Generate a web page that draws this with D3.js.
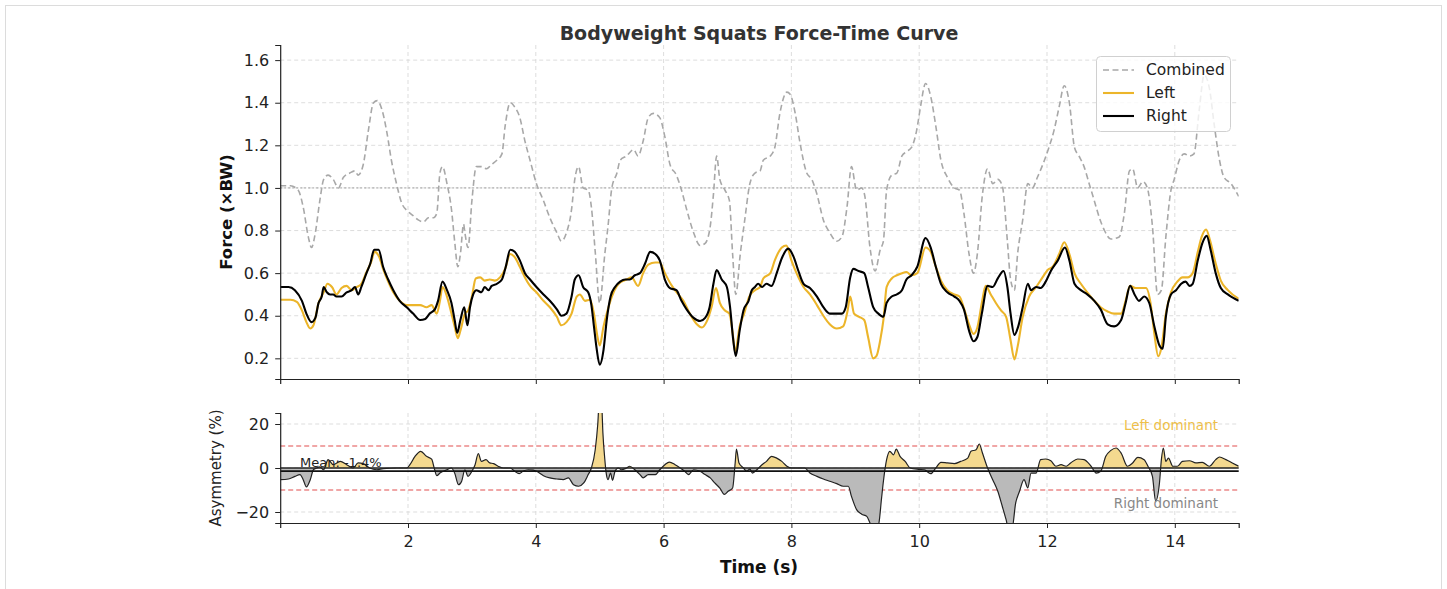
<!DOCTYPE html>
<html>
<head>
<meta charset="utf-8">
<script src="https://cdn.jsdelivr.net/npm/d3@7"></script>
<style>
  html, body { margin: 0; padding: 0; background: #fff; }
  svg { display: block; font-family: "DejaVu Sans", sans-serif; }
</style>
</head>
<body>
<svg id="chart" width="1447" height="589"></svg>
<script>
// Force-time samples, [time (s), force (×BW)]
const combined = [[0,1.01],[0.16,1.01],[0.28,0.99],[0.36,0.91],[0.44,0.77],[0.49,0.72],[0.55,0.79],[0.62,0.94],[0.68,1.04],[0.75,1.06],[0.83,1.04],[0.91,1.0],[0.99,1.05],[1.09,1.07],[1.17,1.08],[1.22,1.06],[1.30,1.11],[1.38,1.27],[1.46,1.40],[1.52,1.41],[1.59,1.37],[1.67,1.26],[1.74,1.13],[1.82,1.02],[1.90,0.93],[2.0,0.89],[2.08,0.87],[2.16,0.85],[2.24,0.84],[2.32,0.86],[2.40,0.86],[2.45,0.88],[2.50,1.07],[2.54,1.10],[2.61,1.02],[2.68,0.90],[2.73,0.75],[2.78,0.63],[2.82,0.69],[2.87,0.83],[2.89,0.79],[2.94,0.72],[3.00,0.94],[3.07,1.10],[3.15,1.10],[3.23,1.09],[3.31,1.11],[3.39,1.13],[3.47,1.16],[3.52,1.29],[3.60,1.40],[3.67,1.38],[3.75,1.33],[3.83,1.22],[3.91,1.13],[4.01,1.02],[4.12,0.94],[4.22,0.86],[4.33,0.79],[4.40,0.75],[4.48,0.79],[4.56,0.90],[4.61,1.04],[4.67,1.10],[4.74,1.00],[4.82,0.99],[4.87,0.91],[4.93,0.70],[5.00,0.46],[5.08,0.69],[5.13,0.82],[5.19,1.00],[5.27,1.07],[5.32,1.13],[5.42,1.15],[5.53,1.18],[5.60,1.15],[5.68,1.22],[5.76,1.33],[5.84,1.35],[5.94,1.33],[6.02,1.24],[6.10,1.11],[6.20,1.06],[6.28,0.99],[6.36,0.90],[6.47,0.79],[6.57,0.73],[6.65,0.74],[6.73,0.82],[6.78,0.97],[6.83,1.15],[6.88,1.04],[6.96,0.99],[7.03,0.94],[7.08,0.69],[7.13,0.50],[7.20,0.69],[7.27,0.85],[7.35,1.02],[7.43,1.07],[7.51,1.08],[7.56,1.13],[7.67,1.15],[7.74,1.19],[7.82,1.35],[7.93,1.45],[7.98,1.44],[8.06,1.35],[8.13,1.22],[8.24,1.07],[8.32,1.04],[8.40,0.97],[8.50,0.85],[8.60,0.79],[8.71,0.75],[8.79,0.77],[8.87,0.91],[8.94,1.10],[9.02,0.99],[9.10,1.00],[9.15,0.96],[9.23,0.72],[9.31,0.61],[9.39,0.71],[9.44,0.75],[9.49,0.99],[9.57,1.06],[9.65,1.07],[9.73,1.15],[9.80,1.17],[9.88,1.19],[9.96,1.27],[10.02,1.38],[10.10,1.49],[10.18,1.43],[10.26,1.29],[10.34,1.13],[10.44,1.05],[10.55,1.00],[10.63,0.99],[10.70,0.88],[10.78,0.69],[10.85,0.60],[10.91,0.69],[10.99,0.97],[11.07,1.09],[11.15,1.02],[11.23,1.04],[11.30,1.01],[11.38,0.75],[11.43,0.57],[11.49,0.52],[11.54,0.69],[11.62,0.85],[11.70,1.02],[11.77,1.00],[11.85,1.05],[11.96,1.13],[12.03,1.19],[12.11,1.27],[12.19,1.38],[12.27,1.48],[12.35,1.40],[12.43,1.19],[12.50,1.15],[12.58,1.10],[12.66,1.02],[12.74,0.94],[12.82,0.86],[12.90,0.80],[13.00,0.76],[13.13,0.77],[13.21,0.88],[13.29,1.08],[13.34,1.09],[13.42,1.00],[13.50,1.03],[13.57,1.00],[13.65,0.82],[13.73,0.50],[13.79,0.52],[13.86,0.77],[13.94,0.99],[13.99,1.04],[14.07,1.13],[14.15,1.16],[14.23,1.15],[14.30,1.16],[14.38,1.36],[14.46,1.53],[14.54,1.47],[14.62,1.29],[14.70,1.13],[14.77,1.05],[14.88,1.02],[15.0,0.96]];

const left = [[0,0.475],[0.16,0.475],[0.26,0.465],[0.34,0.425],[0.41,0.37],[0.47,0.34],[0.52,0.355],[0.60,0.46],[0.68,0.51],[0.74,0.55],[0.81,0.535],[0.88,0.50],[0.96,0.53],[1.04,0.54],[1.12,0.52],[1.20,0.535],[1.27,0.55],[1.35,0.605],[1.42,0.65],[1.48,0.70],[1.55,0.675],[1.61,0.62],[1.69,0.56],[1.77,0.51],[1.87,0.47],[1.98,0.45],[2.08,0.45],[2.19,0.45],[2.29,0.44],[2.37,0.45],[2.45,0.41],[2.50,0.47],[2.54,0.535],[2.61,0.49],[2.68,0.41],[2.73,0.35],[2.78,0.295],[2.82,0.33],[2.89,0.41],[2.94,0.425],[3.00,0.49],[3.06,0.575],[3.13,0.58],[3.20,0.565],[3.28,0.57],[3.36,0.565],[3.44,0.58],[3.52,0.62],[3.60,0.69],[3.67,0.675],[3.75,0.63],[3.83,0.58],[3.91,0.54],[4.01,0.51],[4.12,0.47],[4.22,0.44],[4.33,0.395],[4.40,0.355],[4.48,0.37],[4.56,0.41],[4.64,0.49],[4.69,0.50],[4.77,0.47],[4.85,0.475],[4.91,0.41],[4.96,0.31],[5.00,0.26],[5.06,0.35],[5.11,0.41],[5.19,0.49],[5.27,0.54],[5.34,0.56],[5.42,0.57],[5.50,0.58],[5.60,0.54],[5.68,0.60],[5.76,0.64],[5.87,0.65],[5.94,0.65],[6.02,0.60],[6.13,0.54],[6.23,0.50],[6.31,0.47],[6.41,0.41],[6.52,0.36],[6.60,0.345],[6.67,0.37],[6.75,0.44],[6.82,0.53],[6.88,0.46],[6.96,0.425],[7.03,0.41],[7.08,0.32],[7.12,0.23],[7.19,0.35],[7.26,0.41],[7.34,0.49],[7.43,0.52],[7.51,0.535],[7.56,0.575],[7.67,0.60],[7.74,0.66],[7.85,0.72],[7.92,0.73],[8.00,0.66],[8.08,0.60],[8.19,0.535],[8.29,0.50],[8.40,0.45],[8.50,0.40],[8.60,0.36],[8.71,0.34],[8.81,0.35],[8.88,0.425],[8.92,0.49],[8.98,0.41],[9.06,0.395],[9.14,0.38],[9.20,0.30],[9.28,0.20],[9.33,0.21],[9.39,0.285],[9.44,0.38],[9.49,0.535],[9.57,0.575],[9.65,0.59],[9.73,0.60],[9.80,0.605],[9.88,0.59],[9.97,0.60],[10.10,0.72],[10.18,0.70],[10.26,0.63],[10.34,0.565],[10.44,0.52],[10.55,0.50],[10.63,0.49],[10.70,0.435],[10.78,0.36],[10.85,0.315],[10.91,0.345],[10.98,0.46],[11.04,0.54],[11.12,0.50],[11.20,0.46],[11.28,0.425],[11.36,0.395],[11.43,0.285],[11.49,0.195],[11.54,0.255],[11.62,0.395],[11.72,0.49],[11.83,0.535],[11.93,0.58],[12.01,0.615],[12.09,0.63],[12.19,0.69],[12.27,0.745],[12.35,0.69],[12.43,0.60],[12.53,0.55],[12.63,0.51],[12.74,0.47],[12.84,0.44],[12.95,0.42],[13.05,0.41],[13.16,0.41],[13.23,0.47],[13.30,0.54],[13.39,0.53],[13.47,0.53],[13.55,0.53],[13.62,0.46],[13.68,0.315],[13.74,0.21],[13.79,0.25],[13.86,0.41],[13.94,0.51],[14.04,0.56],[14.12,0.58],[14.20,0.58],[14.28,0.60],[14.36,0.70],[14.42,0.77],[14.49,0.805],[14.55,0.755],[14.64,0.645],[14.72,0.565],[14.83,0.52],[15.0,0.48]];

const right = [[0,0.535],[0.13,0.535],[0.23,0.52],[0.34,0.47],[0.41,0.41],[0.49,0.37],[0.55,0.39],[0.60,0.46],[0.65,0.49],[0.68,0.535],[0.73,0.51],[0.78,0.50],[0.83,0.50],[0.88,0.49],[0.96,0.49],[1.04,0.51],[1.12,0.52],[1.17,0.535],[1.22,0.50],[1.27,0.535],[1.35,0.60],[1.41,0.645],[1.47,0.71],[1.54,0.71],[1.61,0.63],[1.69,0.57],[1.77,0.52],[1.87,0.47],[1.98,0.44],[2.08,0.41],[2.19,0.38],[2.27,0.385],[2.34,0.41],[2.42,0.43],[2.47,0.47],[2.54,0.56],[2.61,0.52],[2.68,0.46],[2.73,0.38],[2.77,0.32],[2.82,0.38],[2.88,0.44],[2.93,0.355],[2.97,0.44],[3.02,0.50],[3.07,0.52],[3.15,0.51],[3.20,0.535],[3.26,0.52],[3.31,0.54],[3.39,0.55],[3.47,0.57],[3.53,0.63],[3.60,0.71],[3.67,0.70],[3.75,0.66],[3.83,0.60],[3.91,0.57],[4.01,0.535],[4.12,0.50],[4.22,0.47],[4.33,0.43],[4.40,0.40],[4.48,0.41],[4.56,0.49],[4.61,0.57],[4.67,0.59],[4.74,0.535],[4.82,0.51],[4.87,0.45],[4.91,0.35],[4.95,0.25],[5.00,0.17],[5.06,0.24],[5.11,0.38],[5.17,0.49],[5.24,0.535],[5.32,0.56],[5.40,0.57],[5.47,0.57],[5.55,0.59],[5.63,0.60],[5.71,0.645],[5.79,0.70],[5.87,0.69],[5.94,0.66],[6.02,0.57],[6.10,0.53],[6.20,0.52],[6.28,0.47],[6.36,0.43],[6.47,0.39],[6.57,0.375],[6.65,0.39],[6.72,0.44],[6.78,0.55],[6.83,0.615],[6.91,0.57],[6.99,0.535],[7.04,0.44],[7.09,0.285],[7.13,0.21],[7.19,0.33],[7.25,0.425],[7.33,0.47],[7.38,0.52],[7.43,0.535],[7.48,0.55],[7.54,0.535],[7.61,0.55],[7.69,0.54],[7.77,0.60],[7.85,0.67],[7.95,0.715],[8.03,0.68],[8.11,0.61],[8.19,0.55],[8.29,0.53],[8.40,0.49],[8.50,0.44],[8.60,0.41],[8.71,0.41],[8.79,0.41],[8.85,0.44],[8.92,0.58],[8.97,0.62],[9.05,0.61],[9.14,0.60],[9.20,0.535],[9.28,0.44],[9.36,0.41],[9.44,0.395],[9.49,0.46],[9.57,0.49],[9.65,0.50],[9.73,0.52],[9.80,0.57],[9.88,0.59],[9.97,0.63],[10.10,0.765],[10.18,0.72],[10.26,0.63],[10.34,0.55],[10.44,0.51],[10.55,0.49],[10.63,0.47],[10.70,0.43],[10.78,0.33],[10.85,0.28],[10.91,0.30],[10.98,0.41],[11.07,0.54],[11.15,0.535],[11.23,0.575],[11.32,0.61],[11.38,0.535],[11.43,0.41],[11.49,0.31],[11.55,0.35],[11.62,0.44],[11.70,0.55],[11.75,0.52],[11.83,0.535],[11.90,0.53],[11.98,0.56],[12.06,0.61],[12.17,0.66],[12.28,0.72],[12.35,0.66],[12.43,0.55],[12.53,0.52],[12.63,0.50],[12.74,0.47],[12.84,0.43],[12.95,0.36],[13.05,0.35],[13.16,0.38],[13.23,0.46],[13.30,0.54],[13.37,0.50],[13.44,0.47],[13.52,0.49],[13.60,0.46],[13.68,0.35],[13.76,0.26],[13.81,0.245],[13.86,0.395],[13.94,0.50],[14.02,0.52],[14.10,0.55],[14.17,0.56],[14.23,0.54],[14.28,0.55],[14.36,0.66],[14.43,0.74],[14.50,0.775],[14.56,0.71],[14.64,0.60],[14.72,0.53],[14.83,0.50],[15.0,0.47]];

// Left/right asymmetry, [time (s), %]; positive = left dominant
const asymmetry = [[0,-5.3],[0.13,-5],[0.23,-3.8],[0.31,-3],[0.36,-5.3],[0.41,-8.6],[0.47,-5.3],[0.52,-0.8],[0.57,0],[0.62,0.5],[0.68,-0.8],[0.75,3.8],[0.83,1.5],[0.94,3],[1.04,1.5],[1.14,0],[1.22,2.3],[1.30,2],[1.40,0],[1.51,-0.8],[1.61,-0.3],[1.82,0],[1.98,0],[2.03,1.5],[2.11,5.3],[2.20,7.6],[2.29,5.3],[2.37,4],[2.41,0],[2.45,-3.5],[2.50,-2.3],[2.61,-0.8],[2.68,0],[2.73,-2.3],[2.79,-7.6],[2.84,-6],[2.89,-0.8],[2.94,-3.8],[3.00,-1.5],[3.05,1.5],[3.10,6.5],[3.15,3],[3.22,3.8],[3.28,2.3],[3.34,2],[3.41,0.8],[3.49,0],[3.60,0],[3.67,-1.5],[3.74,-2.6],[3.80,-1.5],[3.88,-0.8],[3.96,-1],[4.01,-1.5],[4.12,-3.5],[4.22,-4.5],[4.33,-5],[4.43,-5.3],[4.51,-4.5],[4.59,-7.6],[4.67,-8.3],[4.75,-6.8],[4.82,-3],[4.87,0],[4.93,8.3],[4.97,20],[5.00,34],[5.03,30],[5.05,16],[5.08,4],[5.10,-2],[5.13,-5.3],[5.17,-2.3],[5.20,-5.6],[5.24,-1.5],[5.29,0],[5.34,-0.8],[5.42,0],[5.47,0.8],[5.55,-0.8],[5.63,-3],[5.68,-4.5],[5.76,-3],[5.87,-3],[5.94,-0.8],[6.02,1.5],[6.09,2.7],[6.18,1.5],[6.26,0],[6.33,-1.5],[6.39,-3],[6.47,-0.8],[6.57,-1.5],[6.65,-3],[6.73,-4.5],[6.80,-6.8],[6.88,-9.1],[6.95,-12],[7.01,-10.6],[7.08,-9.1],[7.12,2.3],[7.14,8.6],[7.18,2.3],[7.25,0],[7.30,-1.5],[7.35,-0.5],[7.39,-2.3],[7.46,-0.8],[7.54,1.5],[7.61,3],[7.69,5.3],[7.77,4.5],[7.85,3],[7.93,0.8],[8.00,0],[8.21,0],[8.29,-2.3],[8.40,-3.8],[8.50,-5],[8.60,-6],[8.71,-7.1],[8.81,-8.3],[8.89,-8.3],[8.94,-12.9],[9.02,-18.9],[9.10,-21],[9.18,-22],[9.23,-25],[9.28,-28],[9.33,-28],[9.37,-25],[9.41,-14],[9.44,-6],[9.49,3.8],[9.54,7.6],[9.60,6],[9.64,8.6],[9.70,5.3],[9.78,3],[9.86,0],[9.99,-0.6],[10.08,-0.8],[10.18,-2.6],[10.26,0],[10.34,2.6],[10.44,2.3],[10.55,2],[10.65,3],[10.76,4.5],[10.81,7.6],[10.89,8.3],[10.94,10.9],[10.99,6.8],[11.07,0],[11.15,-5.3],[11.23,-10.6],[11.30,-17.4],[11.36,-23.5],[11.40,-28],[11.45,-28],[11.51,-15.9],[11.57,-10.6],[11.64,-5.3],[11.70,-9],[11.75,-2.3],[11.83,-2.3],[11.90,3.8],[11.98,4.1],[12.06,3.3],[12.14,0.8],[12.22,1.5],[12.30,0.8],[12.37,2.3],[12.48,4.1],[12.58,3.8],[12.69,0.8],[12.77,-2.3],[12.84,-1.5],[12.92,5.3],[13.00,8],[13.08,9.1],[13.16,6.8],[13.26,0.8],[13.34,2.3],[13.42,4.8],[13.52,3.8],[13.58,0.8],[13.65,-3.8],[13.70,-15],[13.76,-6.8],[13.79,3.8],[13.82,9],[13.86,3],[13.90,4.5],[13.97,0.8],[14.04,0.8],[14.12,3],[14.23,3.3],[14.33,2.3],[14.43,2.6],[14.54,0.8],[14.64,3.8],[14.70,5],[14.80,3.8],[14.90,2.3],[15.0,0.8]];

const meanAsymmetry = -1.4;
const timeTicks = [2, 4, 6, 8, 10, 12, 14];
const forceTicks = [0.2, 0.4, 0.6, 0.8, 1.0, 1.2, 1.4, 1.6];
const asymTicks = [-20, 0, 20];
const thresholdLines = [10, -10];

const COL_LEFT = "#ecb52a";
const COL_RIGHT = "#000000";
const COL_COMB = "#a8a8a8";

const svg = d3.select("#chart");
const W = 1447, H = 589;

// outer frame
svg.append("rect").attr("x", 5.5).attr("y", 5.5).attr("width", W - 11).attr("height", H + 10)
  .attr("fill", "#fff").attr("stroke", "#dcdcdc").attr("stroke-width", 1);

const x = d3.scaleLinear().domain([0, 15]).range([280.2, 1238.7]);
const yTop = d3.scaleLinear().domain([0.103, 1.671]).range([379, 45]);
const yBot = d3.scaleLinear().domain([-25, 25]).range([523, 413]);

const defs = svg.append("defs");
defs.append("clipPath").attr("id", "clipTop").append("rect")
  .attr("x", x(0)).attr("y", yTop(1.671)).attr("width", x(15) - x(0)).attr("height", yTop(0.103) - yTop(1.671));
defs.append("clipPath").attr("id", "clipBot").append("rect")
  .attr("x", x(0)).attr("y", yBot(25)).attr("width", x(15) - x(0)).attr("height", yBot(-25) - yBot(25));
defs.append("clipPath").attr("id", "clipPos").append("rect")
  .attr("x", x(0)).attr("y", yBot(25)).attr("width", x(15) - x(0)).attr("height", yBot(0) - yBot(25));
defs.append("clipPath").attr("id", "clipNeg").append("rect")
  .attr("x", x(0)).attr("y", yBot(0)).attr("width", x(15) - x(0)).attr("height", yBot(-25) - yBot(0));

function grid(g, yScale, yTicks, y0, y1) {
  g.selectAll("line.gx").data(timeTicks).join("line").attr("class", "gx")
    .attr("x1", d => x(d)).attr("x2", d => x(d)).attr("y1", y0).attr("y2", y1)
    .attr("stroke", "#d9d9d9").attr("stroke-width", 0.9).attr("stroke-dasharray", "4,3");
  g.selectAll("line.gy").data(yTicks).join("line").attr("class", "gy")
    .attr("x1", x(0)).attr("x2", x(15)).attr("y1", d => yScale(d)).attr("y2", d => yScale(d))
    .attr("stroke", "#d9d9d9").attr("stroke-width", 0.9).attr("stroke-dasharray", "4,3");
}

function styleAxis(g) {
  g.select(".domain").attr("stroke", "#222").attr("stroke-width", 1.2);
  g.selectAll(".tick line").attr("stroke", "#222").attr("stroke-width", 1);
  g.selectAll(".tick text").attr("fill", "#222").style("font-size", "16px")
    .style("font-family", "DejaVu Sans, sans-serif");
}

// ---------- Force panel ----------
const forcePanel = svg.append("g");
grid(forcePanel.append("g"), yTop, forceTicks, yTop(1.671), yTop(0.103));

// bodyweight reference
forcePanel.append("line").attr("x1", x(0)).attr("x2", x(15)).attr("y1", yTop(1)).attr("y2", yTop(1))
  .attr("stroke", "#a0a0a0").attr("stroke-width", 1).attr("stroke-dasharray", "2,2");

const line = yS => d3.line().x(d => x(d[0])).y(d => yS(d[1])).curve(d3.curveMonotoneX);
const plotTop = forcePanel.append("g").attr("clip-path", "url(#clipTop)");
plotTop.append("path").datum(combined).attr("d", line(yTop))
  .attr("fill", "none").attr("stroke", COL_COMB).attr("stroke-width", 1.6).attr("stroke-dasharray", "6,3.5");
plotTop.append("path").datum(left).attr("d", line(yTop))
  .attr("fill", "none").attr("stroke", COL_LEFT).attr("stroke-width", 2.1).attr("stroke-linejoin", "round");
plotTop.append("path").datum(right).attr("d", line(yTop))
  .attr("fill", "none").attr("stroke", COL_RIGHT).attr("stroke-width", 2.1).attr("stroke-linejoin", "round");

forcePanel.append("g").attr("transform", `translate(${x(0)},0)`)
  .call(d3.axisLeft(yTop).tickValues(forceTicks).tickFormat(d3.format(".1f")).tickSizeOuter(0).tickSize(5).tickPadding(6))
  .call(styleAxis);
forcePanel.append("g").attr("transform", `translate(0,${yTop(0.103)})`)
  .call(d3.axisBottom(x).tickValues(timeTicks).tickFormat("").tickSizeOuter(0).tickSize(5))
  .call(styleAxis);

// legend
const lg = svg.append("g").attr("transform", "translate(1096,56)");
lg.append("rect").attr("x", 0.5).attr("y", 0.5).attr("width", 134).attr("height", 75).attr("rx", 4)
  .attr("fill", "#fff").attr("fill-opacity", 0.8).attr("stroke", "#d0d0d0");
const legendItems = [
  { label: "Combined", color: COL_COMB, dash: "6,3.5", w: 1.6 },
  { label: "Left", color: COL_LEFT, dash: null, w: 2.1 },
  { label: "Right", color: COL_RIGHT, dash: null, w: 2.1 }
];
legendItems.forEach((it, i) => {
  const yy = 14 + i * 23;
  lg.append("line").attr("x1", 7).attr("x2", 38).attr("y1", yy).attr("y2", yy)
    .attr("stroke", it.color).attr("stroke-width", it.w).attr("stroke-dasharray", it.dash);
  lg.append("text").attr("x", 50).attr("y", yy).attr("dy", "0.35em")
    .style("font-size", "15.5px").attr("fill", "#222").text(it.label);
});

// ---------- Asymmetry panel ----------
const asymPanel = svg.append("g");
grid(asymPanel.append("g"), yBot, asymTicks, yBot(25), yBot(-25));

thresholdLines.forEach(v => {
  asymPanel.append("line").attr("x1", x(0)).attr("x2", x(15)).attr("y1", yBot(v)).attr("y2", yBot(v))
    .attr("stroke", "#de3030").attr("stroke-width", 1.2).attr("stroke-dasharray", "5,3").attr("opacity", 0.85);
});

const area = d3.area().x(d => x(d[0])).y0(yBot(0)).y1(d => yBot(d[1])).curve(d3.curveMonotoneX);
const plotBot = asymPanel.append("g").attr("clip-path", "url(#clipBot)");
plotBot.append("g").attr("clip-path", "url(#clipPos)").append("path").datum(asymmetry)
  .attr("d", area).attr("fill", "#f4d98f");
plotBot.append("g").attr("clip-path", "url(#clipNeg)").append("path").datum(asymmetry)
  .attr("d", area).attr("fill", "#bababa");
plotBot.append("path").datum(asymmetry).attr("d", line(yBot))
  .attr("fill", "none").attr("stroke", "#222").attr("stroke-width", 1.2);

asymPanel.append("line").attr("x1", x(0)).attr("x2", x(15)).attr("y1", yBot(0)).attr("y2", yBot(0))
  .attr("stroke", "#222").attr("stroke-width", 1.3);
asymPanel.append("line").attr("x1", x(0)).attr("x2", x(15)).attr("y1", yBot(meanAsymmetry)).attr("y2", yBot(meanAsymmetry))
  .attr("stroke", "#111").attr("stroke-width", 1.6);

asymPanel.append("text").attr("x", 300).attr("y", yBot(meanAsymmetry) - 4)
  .style("font-size", "13px").attr("fill", "#222").text(`Mean: ${meanAsymmetry.toFixed(1)}%`);
asymPanel.append("text").attr("x", 1218).attr("y", 430).attr("text-anchor", "end")
  .style("font-size", "13.5px").attr("fill", COL_LEFT).attr("opacity", 0.85).text("Left dominant");
asymPanel.append("text").attr("x", 1218).attr("y", 508).attr("text-anchor", "end")
  .style("font-size", "13.5px").attr("fill", "#888").text("Right dominant");

asymPanel.append("g").attr("transform", `translate(${x(0)},0)`)
  .call(d3.axisLeft(yBot).tickValues(asymTicks).tickFormat(d => d < 0 ? "\u2212" + Math.abs(d) : d).tickSizeOuter(0).tickSize(5).tickPadding(6))
  .call(styleAxis);
asymPanel.append("g").attr("transform", `translate(0,${yBot(-25)})`)
  .call(d3.axisBottom(x).tickValues(timeTicks).tickFormat(d3.format("d")).tickSizeOuter(0).tickSize(5).tickPadding(8))
  .call(styleAxis);

// ---------- titles ----------
svg.append("text").attr("x", 759).attr("y", 40).attr("text-anchor", "middle")
  .style("font-size", "19px").style("font-weight", "bold").attr("fill", "#333")
  .text("Bodyweight Squats Force-Time Curve");
svg.append("text").attr("transform", `translate(232,${(yTop(1.671) + yTop(0.103)) / 2}) rotate(-90)`)
  .attr("text-anchor", "middle").style("font-size", "16.5px").style("font-weight", "bold").attr("fill", "#111")
  .text("Force (\u00d7BW)");
svg.append("text").attr("transform", `translate(221,468) rotate(-90)`)
  .attr("text-anchor", "middle").style("font-size", "15px").attr("fill", "#222")
  .text("Asymmetry (%)");
svg.append("text").attr("x", 759).attr("y", 573).attr("text-anchor", "middle")
  .style("font-size", "17px").style("font-weight", "bold").attr("fill", "#111")
  .text("Time (s)");
</script>
</body>
</html>
